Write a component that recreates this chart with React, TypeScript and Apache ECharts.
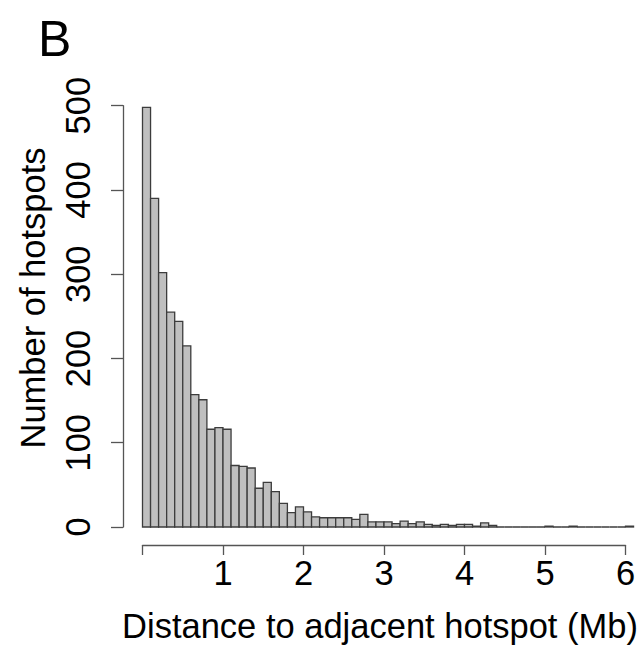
import React, { useEffect, useRef } from "react";
import * as echarts from "echarts";

// Histogram counts, bins of 0.1 Mb starting at 0
const binWidth = 0.1;
const counts = [
  498, 390, 302, 255, 244, 215, 157, 151, 116, 118,
  116, 73, 72, 70, 46, 53, 42, 28, 17, 24,
  18, 12, 11, 11, 11, 11, 9, 15, 6, 6,
  6, 4, 7, 4, 6, 3, 2, 3, 2, 3,
  3, 1, 5, 2, 0, 0, 0, 0, 0, 0,
  1, 0, 0, 1, 0, 0, 0, 0, 0, 0,
  1,
];
const xTicks = [0, 1, 2, 3, 4, 5, 6];
const xTickLabels = ["", "1", "2", "3", "4", "5", "6"];
const yTicks = [0, 100, 200, 300, 400, 500];

const panelLabel = "B";
const xTitle = "Distance to adjacent hotspot (Mb)";
const yTitle = "Number of hotspots";

const FONT = "'Liberation Sans', Arial, Helvetica, sans-serif";
const FS = 34.5;

export default function App() {
  const ref = useRef<HTMLDivElement>(null);
  useEffect(() => {
    if (!ref.current) return;
    const chart = echarts.init(ref.current, null, { renderer: "svg" });
    const data = counts.map((c, i) => [
      +(i * binWidth).toFixed(2),
      +((i + 1) * binWidth).toFixed(2),
      c,
    ]);
    chart.setOption({
      animation: false,
      backgroundColor: "#ffffff",
      grid: { left: 142.5, right: 13.5, top: 105.7, bottom: 129 },
      xAxis: {
        type: "value",
        min: xTicks[0],
        max: xTicks[xTicks.length - 1],
        interval: 1,
        offset: 18,
        splitLine: { show: false },
        axisLine: { show: true, onZero: false, lineStyle: { color: "#555", width: 1.3 } },
        axisTick: { show: true, length: 10, lineStyle: { color: "#555", width: 1.3 } },
        axisLabel: {
          margin: 10,
          fontSize: FS,
          color: "#000",
          fontFamily: FONT,
          formatter: (v: number) => xTickLabels[xTicks.indexOf(v)] ?? "",
        },
      },
      yAxis: {
        type: "value",
        min: yTicks[0],
        max: yTicks[yTicks.length - 1],
        interval: 100,
        offset: 19.5,
        splitLine: { show: false },
        axisLine: { show: true, onZero: false, lineStyle: { color: "#555", width: 1.3 } },
        axisTick: { show: true, length: 12, lineStyle: { color: "#555", width: 1.3 } },
        axisLabel: {
          rotate: 90,
          margin: 28,
          fontSize: FS,
          color: "#000",
          fontFamily: FONT,
        },
      },
      graphic: [
        {
          type: "text",
          left: 38,
          top: 14,
          style: {
            text: panelLabel,
            font: `50px ${FONT}`,
            fill: "#000",
          },
        },
        {
          type: "text",
          x: 380,
          y: 626,
          style: {
            text: xTitle,
            font: `${FS}px ${FONT}`,
            fill: "#000",
            align: "center",
            verticalAlign: "middle",
          },
        },
        {
          type: "text",
          x: 33,
          y: 298,
          rotation: Math.PI / 2,
          style: {
            text: yTitle,
            font: `${FS}px ${FONT}`,
            fill: "#000",
            align: "center",
            verticalAlign: "middle",
          },
        },
      ],
      series: [
        {
          type: "custom",
          clip: false,
          encode: { x: [0, 1], y: 2 },
          data,
          renderItem: (params: any, api: any) => {
            const x0 = api.value(0);
            const x1 = api.value(1);
            const y = api.value(2);
            const pTop = api.coord([x0, y]);
            const pBot = api.coord([x1, 0]);
            return {
              type: "rect",
              shape: {
                x: pTop[0],
                y: pTop[1],
                width: pBot[0] - pTop[0],
                height: pBot[1] - pTop[1],
              },
              style: { fill: "#bfbfbf", stroke: "#3c3c3c", lineWidth: 1.3 },
            };
          },
        },
      ],
    });
    return () => chart.dispose();
  }, []);
  return (
    <div
      ref={ref}
      style={{ position: "fixed", left: 0, top: 0, width: 639, height: 656 }}
    />
  );
}
